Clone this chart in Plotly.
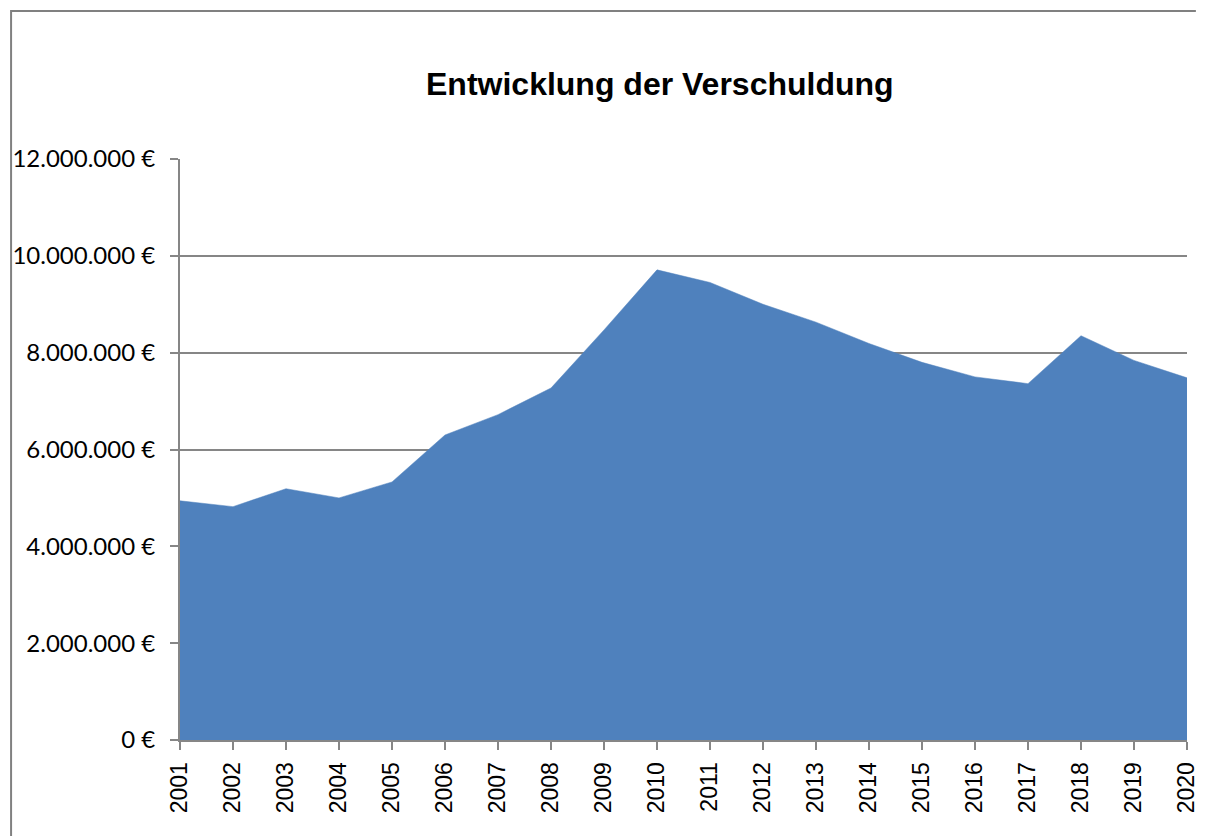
import plotly.graph_objects as go

years = [2001, 2002, 2003, 2004, 2005, 2006, 2007, 2008, 2009, 2010,
         2011, 2012, 2013, 2014, 2015, 2016, 2017, 2018, 2019, 2020]
debt = [4940000, 4820000, 5190000, 5000000, 5330000, 6300000, 6720000, 7270000, 8470000, 9710000,
        9450000, 9000000, 8630000, 8190000, 7800000, 7500000, 7360000, 8350000, 7840000, 7480000]
title_text = "Entwicklung der Verschuldung"
y_ticks = [0, 2000000, 4000000, 6000000, 8000000, 10000000, 12000000]
y_labels = [f"{v:,}".replace(",", ".") + " €" for v in y_ticks]

W, H = 1208, 836
SX = 1208 / 1200  # the capture comes out slightly narrower than the page
# plot area in target pixels: x 179..1191, y 159..740
L = round(179 * SX)
R = W - round(1191 * SX)
T, B = 159, H - 740
pw, ph = W - L - R, H - T - B

def px_x(x):  # target pixel -> paper x
    return (x * SX - L) / pw

def px_y(y):  # target pixel -> paper y
    return (H - B - y) / ph

GRAY = "#868686"
FRAME = dict(color="#808080", width=2)

fig = go.Figure()
fig.add_trace(go.Scatter(
    x=years, y=debt, mode="lines", fill="tozeroy",
    fillcolor="#4F81BD", line=dict(color="#4F81BD", width=0.5),
    hoverinfo="x+y", showlegend=False,
))

fig.update_layout(
    width=W, height=H,
    margin=dict(l=L, r=R, t=T, b=B),
    paper_bgcolor="white", plot_bgcolor="white",
    showlegend=False,
    xaxis=dict(
        range=[2001, 2020], tickmode="array", tickvals=years,
        ticktext=[str(y) for y in years],
        tickangle=-90, ticks="outside", ticklen=8, tickwidth=2, tickcolor=GRAY,
        showline=True, linecolor=GRAY, linewidth=2, showgrid=False, zeroline=False,
        tickfont=dict(family="Liberation Sans", size=23, color="black"),
        ticklabelstandoff=3, ticklabeloverflow="allow",
    ),
    yaxis=dict(
        range=[0, 12000000], tickmode="array", tickvals=y_ticks, ticktext=y_labels,
        ticks="outside", ticklen=8, tickwidth=2, tickcolor=GRAY,
        showline=True, linecolor=GRAY, linewidth=2,
        showgrid=True, gridcolor=GRAY, gridwidth=2, zeroline=False,
        tickfont=dict(family="Lato", size=24, color="black"),
        ticklabelstandoff=10,
    ),
    shapes=[
        dict(type="line", xref="paper", yref="paper",
             x0=px_x(9), x1=(W - L) / pw, y0=px_y(11), y1=px_y(11),
             line=FRAME, layer="above"),
        dict(type="line", xref="paper", yref="paper",
             x0=px_x(9), x1=px_x(9), y0=px_y(10), y1=px_y(H),
             line=FRAME, layer="above"),
    ],
    annotations=[dict(
        text="<b>" + title_text + "</b>", xref="paper", yref="paper",
        x=px_x(661), y=px_y(84), xanchor="center", yanchor="middle",
        showarrow=False, font=dict(family="Liberation Sans", size=32, color="black"),
    )],
)

fig.write_html(
    "out.html",
    config={"displayModeBar": False},
    post_script="document.body.style.margin='0';document.body.style.overflow='hidden';",
)
